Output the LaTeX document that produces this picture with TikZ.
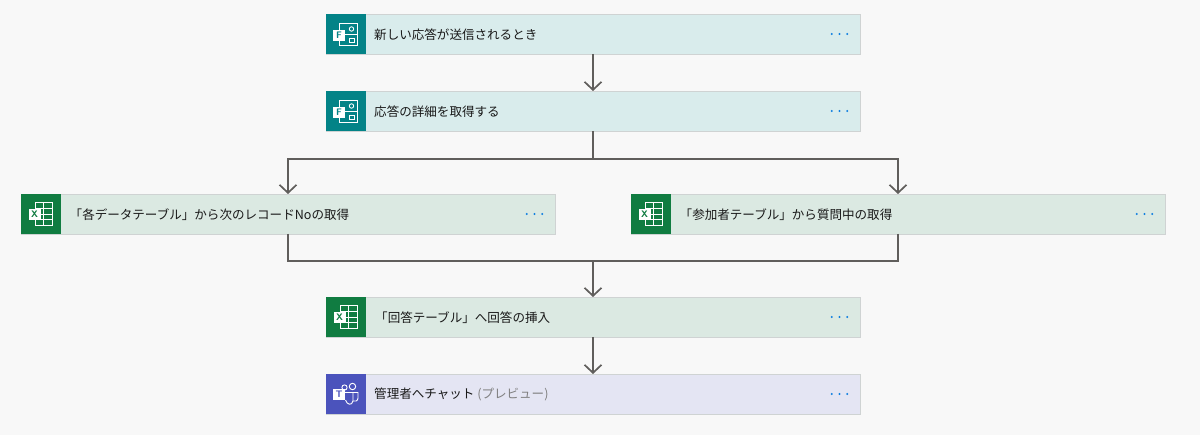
\documentclass[tikz,border=0pt]{standalone}
\usepackage{fontspec}
\usepackage{xcolor}
\usepackage{tikz}
\usetikzlibrary{arrows.meta}
\setmainfont{Noto Sans CJK JP}
\definecolor{pagegray}{HTML}{F8F8F8}
\definecolor{edgegray}{HTML}{CFD3D3}
\definecolor{flowgray}{HTML}{605E5C}
\definecolor{formsdark}{HTML}{038387}
\definecolor{formstint}{HTML}{D9ECEC}
\definecolor{exceldark}{HTML}{107C41}
\definecolor{exceltint}{HTML}{DBE9E2}
\definecolor{teamsdark}{HTML}{4B53BC}
\definecolor{teamstint}{HTML}{E4E5F3}
\definecolor{dotblue}{HTML}{0F7FE0}
\tikzset{
  card/.style = {draw=edgegray, line width=0.8pt, minimum width=534pt, minimum height=40pt, inner sep=0, outer sep=0},
  iconbox/.style = {minimum width=40pt, minimum height=40pt, inner sep=0, outer sep=0},
  cardtext/.style = {anchor=west, inner sep=0, text=black!90, font=\fontsize{12.55}{15}\selectfont},
  icontext/.style = {inner sep=0, font=\sffamily\bfseries\fontsize{9.5}{9.5}\selectfont},
  flow/.style = {draw=flowgray, line width=1.3pt},
  flowtip/.style = {flow, -{Straight Barb[length=8pt,width=17pt,line width=1.7pt]}},
  glyph/.style = {draw=white, line width=0.9pt}
}
\begin{document}
\begin{tikzpicture}[x=1pt,y=-1pt]
\useasboundingbox (0,0) rectangle (1200,435);
\fill[pagegray] (0,0) rectangle (1200,435);
\node [card,fill=formstint] (new) at (593,34) {}; %0
\node [card,fill=formstint] (detail) at (593,111) {}; %1
\node [card,fill=exceltint] (lookup) at (288,214) {}; %2
\node [card,fill=exceltint] (member) at (898,214) {}; %3
\node [card,fill=exceltint] (insert) at (593,317) {}; %4
\node [card,fill=teamstint] (chat) at (593,394) {}; %5
\node [iconbox,fill=formsdark] (newicon) at (346,34) {};
\node [iconbox,fill=formsdark] (detailicon) at (346,111) {};
\node [iconbox,fill=exceldark] (lookupicon) at (41,214) {};
\node [iconbox,fill=exceldark] (membericon) at (651,214) {};
\node [iconbox,fill=exceldark] (inserticon) at (346,317) {};
\node [iconbox,fill=teamsdark] (chaticon) at (346,394) {};
\node [cardtext] (newtext) at (374,34.8) {新しい応答が送信されるとき};
\node [cardtext] (detailtext) at (374,111.8) {応答の詳細を取得する};
\node [cardtext] (lookuptext) at (69.5,214.8) {「各データテーブル」から次のレコードNoの取得};
\node [cardtext] (membertext) at (679.5,214.8) {「参加者テーブル」から質問中の取得};
\node [cardtext] (inserttext) at (375,317.8) {「回答テーブル」へ回答の挿入};
\node [cardtext] (chattext) at (374,394.8) {管理者へチャット \textcolor{black!50}{(プレビュー)}};
% forms icons
\foreach \x/\y in {326/14,326/91} {
  \begin{scope}[shift={(\x,\y)}]
  \draw[glyph] (13.5,9.5) rectangle (31,31.5);
  \draw[glyph] (13.5,20.5) -- (31,20.5);
  \draw[glyph] (25.5,15) circle (2.2);
  \draw[glyph] (23,24) rectangle (28,28.5);
  \fill[white] (7,16) rectangle (19,27);
  \node [icontext,text=formsdark] at (13,21.5) {F};
  \end{scope}
}
% excel icons
\foreach \x/\y in {21/194,631/194,326/297} {
  \begin{scope}[shift={(\x,\y)}]
  \draw[glyph] (14,8.5) rectangle (31.5,31.5);
  \draw[glyph] (22.5,8.5) -- (22.5,31.5);
  \foreach \r in {14.2,20,25.8} { \draw[glyph] (14,\r) -- (31.5,\r); }
  \fill[white] (8,15) rectangle (19.5,26);
  \node [icontext,text=exceldark] at (13.7,20.5) {X};
  \end{scope}
}
% teams icon
\begin{scope}[shift={(326,374)}]
\draw[glyph] (26.5,12.5) circle (3.2);
\draw[glyph] (18.5,13.5) circle (2.6);
\draw[glyph] (15,18.5) -- (27,18.5) -- (27,27) .. controls (26,32) and (21,31) .. (19.5,26);
\draw[glyph] (27,18.5) -- (32,18.5) -- (32,24) .. controls (32,27) and (29,28) .. (27,27);
\fill[white] (7,15) rectangle (19,26);
\node [icontext,text=teamsdark] at (13,20.5) {T};
\end{scope}
% dots
\foreach \x/\y in {326/34,326/111,21/214,631/214,326/317,326/394} {
  \foreach \d in {505.7,513.5,521.3} { \fill[dotblue] (\x+\d,\y) circle (1.1); }
}
\coordinate (split) at (593,159);
\coordinate (merge) at (593,261);
\draw[flowtip] (new.south) -- (detail.north);
\draw[flow] (detail.south) -- (split);
\draw[flowtip] (split) -| (lookup.north);
\draw[flowtip] (split) -| (member.north);
\draw[flow] (lookup.south) |- (merge);
\draw[flow] (member.south) |- (merge);
\draw[flowtip] (merge) -- (insert.north);
\draw[flowtip] (insert.south) -- (chat.north);
\end{tikzpicture}
\end{document}
